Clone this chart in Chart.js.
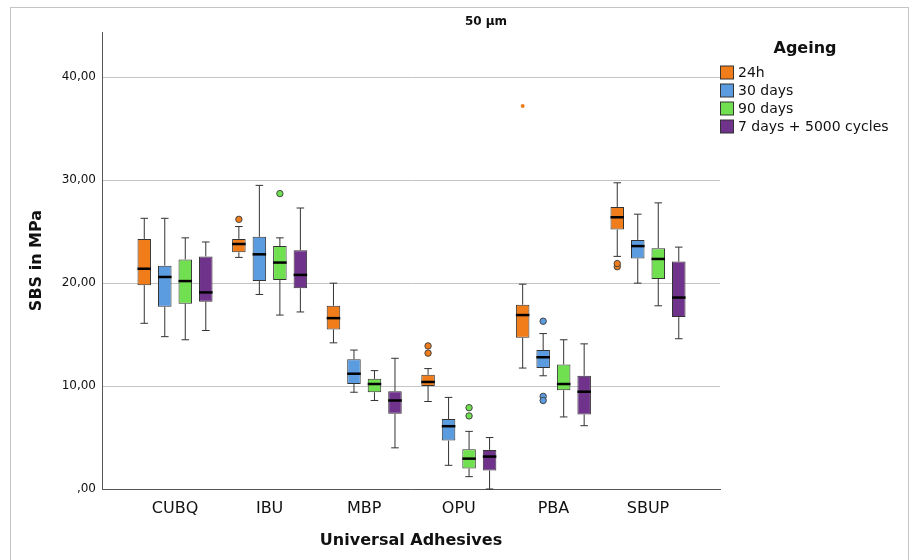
<!DOCTYPE html>
<html>
<head>
<meta charset="utf-8">
<script src="https://cdn.jsdelivr.net/npm/chart.js@4"></script>
<style>
  html, body { margin: 0; padding: 0; background: #fff; }
  #wrap { width: 911px; height: 560px; }
</style>
</head>
<body>
<div id="wrap"><canvas id="chartCanvas" width="911" height="560"></canvas></div>
<script>
const categories = ["CUBQ", "IBU", "MBP", "OPU", "PBA", "SBUP"];
const ageing = ["24h", "30 days", "90 days", "7 days + 5000 cycles"];
const colors = ["#f07d1a", "#5b9be0", "#70e050", "#70338c"];

// one row per ageing group, one value per adhesive
const lowWhisker = [
    [16.1, 22.5, 14.2, 8.5, 11.75, 22.6],
    [14.8, 18.9, 9.4, 2.3, 11.0, 20.0],
    [14.5, 16.9, 8.6, 1.2, 7.0, 17.8],
    [15.4, 17.2, 4.0, 0.0, 6.15, 14.6]
];
const q1 = [
    [19.8, 23.0, 15.5, 10.0, 14.7, 25.2],
    [17.7, 20.2, 10.2, 4.7, 11.75, 22.4],
    [18.0, 20.3, 9.4, 2.0, 9.6, 20.4],
    [18.2, 19.5, 7.3, 1.8, 7.25, 16.7]
];
const median = [
    [21.4, 23.8, 16.6, 10.4, 16.9, 26.4],
    [20.6, 22.8, 11.2, 6.1, 12.8, 23.6],
    [20.2, 22.0, 10.2, 2.95, 10.2, 22.35],
    [19.1, 20.8, 8.6, 3.15, 9.45, 18.6]
];
const q3 = [
    [24.3, 24.3, 17.8, 11.1, 17.9, 27.4],
    [21.7, 24.5, 12.6, 6.8, 13.5, 24.2],
    [22.3, 23.6, 10.7, 3.85, 12.1, 23.4],
    [22.6, 23.2, 9.5, 3.8, 11.0, 22.1]
];
const highWhisker = [
    [26.3, 25.5, 20.0, 11.7, 19.9, 29.75],
    [26.3, 29.5, 13.5, 8.9, 15.1, 26.7],
    [24.4, 24.4, 11.5, 5.6, 14.5, 27.8],
    [24.0, 27.3, 12.7, 5.0, 14.1, 23.5]
];
const outliers = [
    [[], [26.2], [], [13.2, 13.9], [], [21.6, 21.9]],
    [[], [], [], [], [16.3, 9.0, 8.6], []],
    [[], [28.7], [], [7.1, 7.9], [], []],
    [[], [], [], [], [], []]
];
const extremes = [
    [[], [], [], [], [37.2], []],
    [[], [], [], [], [], []],
    [[], [], [], [], [], []],
    [[], [], [], [], [], []]
];
const yTicks = [0, 10, 20, 30, 40];
const yTickLabels = [",00", "10,00", "20,00", "30,00", "40,00"];

const datasets = ageing.map((name, d) => ({
    label: name,
    data: categories.map((c, i) => ({ x: i + 1, y: [q1[d][i], q3[d][i]] })),
    backgroundColor: colors[d],
    borderColor: "#333333",
    borderWidth: 1,
    borderSkipped: false,
    categoryPercentage: 0.867,
    barPercentage: 0.66
}));

const boxPlugin = {
    id: "boxParts",
    afterDatasetsDraw(chart) {
        const ctx = chart.ctx;
        const y = chart.scales.y;
        ctx.save();
        chart.data.datasets.forEach((ds, d) => {
            const meta = chart.getDatasetMeta(d);
            meta.data.forEach((el, i) => {
                const x = el.x;
                const w = el.width;
                const cap = w * 0.28;
                ctx.strokeStyle = "#333333";
                ctx.lineWidth = 1;
                ctx.beginPath();
                ctx.moveTo(x, y.getPixelForValue(q3[d][i]));
                ctx.lineTo(x, y.getPixelForValue(highWhisker[d][i]));
                ctx.moveTo(x - cap, y.getPixelForValue(highWhisker[d][i]));
                ctx.lineTo(x + cap, y.getPixelForValue(highWhisker[d][i]));
                ctx.moveTo(x, y.getPixelForValue(q1[d][i]));
                ctx.lineTo(x, y.getPixelForValue(lowWhisker[d][i]));
                ctx.moveTo(x - cap, y.getPixelForValue(lowWhisker[d][i]));
                ctx.lineTo(x + cap, y.getPixelForValue(lowWhisker[d][i]));
                ctx.stroke();

                ctx.strokeStyle = "#000000";
                ctx.lineWidth = 2.5;
                ctx.beginPath();
                ctx.moveTo(x - w / 2, y.getPixelForValue(median[d][i]));
                ctx.lineTo(x + w / 2, y.getPixelForValue(median[d][i]));
                ctx.stroke();

                outliers[d][i].forEach(v => {
                    ctx.beginPath();
                    ctx.arc(x, y.getPixelForValue(v), 3.2, 0, Math.PI * 2);
                    ctx.fillStyle = colors[d];
                    ctx.fill();
                    ctx.strokeStyle = "#444444";
                    ctx.lineWidth = 1;
                    ctx.stroke();
                });
                extremes[d][i].forEach(v => {
                    ctx.beginPath();
                    ctx.arc(x, y.getPixelForValue(v), 2, 0, Math.PI * 2);
                    ctx.fillStyle = colors[d];
                    ctx.fill();
                });
            });
        });
        ctx.restore();
    }
};

const decorPlugin = {
    id: "decor",
    beforeDraw(chart) {
        const ctx = chart.ctx;
        ctx.save();
        ctx.fillStyle = "#ffffff";
        ctx.fillRect(0, 0, chart.width, chart.height);
        ctx.strokeStyle = "#c4c4c4";
        ctx.lineWidth = 1;
        ctx.strokeRect(10.5, 7.5, 898, 570);
        ctx.restore();
    },
    afterDraw(chart) {
        const ctx = chart.ctx;
        ctx.save();
        ctx.fillStyle = "#111111";
        ctx.textAlign = "center";
        ctx.textBaseline = "middle";
        ctx.font = "bold 12px 'DejaVu Sans'";
        ctx.fillText("50 µm", 486, 22);
        ctx.font = "bold 16px 'DejaVu Sans'";
        ctx.fillText("Ageing", 805, 49);
        ctx.textAlign = "left";
        ctx.font = "14px 'DejaVu Sans'";
        ageing.forEach((name, d) => {
            const yy = 72.5 + d * 18;
            ctx.fillStyle = colors[d];
            ctx.fillRect(720.5, yy - 6.5, 13, 13);
            ctx.strokeStyle = "#333333";
            ctx.lineWidth = 1;
            ctx.strokeRect(720.5, yy - 6.5, 13, 13);
            ctx.fillStyle = "#111111";
            ctx.fillText(name, 738, yy + 0.5);
        });
        ctx.restore();
    }
};

const ctx = document.getElementById("chartCanvas").getContext("2d");
new Chart(ctx, {
    type: "bar",
    data: { datasets },
    options: {
        responsive: false,
        animation: false,
        layout: { padding: { left: 10, top: 32, right: 191, bottom: 0 } },
        plugins: {
            legend: { display: false },
            tooltip: { enabled: false },
            title: { display: false }
        },
        scales: {
            x: {
                type: "linear",
                offset: false,
                min: 0.228,
                max: 6.761,
                afterBuildTicks: s => { s.ticks = categories.map((c, i) => ({ value: i + 1 })); },
                afterFit: s => { s.height = 71; },
                ticks: {
                    color: "#111111",
                    padding: 10,
                    font: { family: "DejaVu Sans", size: 16 },
                    callback: v => categories[v - 1]
                },
                grid: { display: false, drawTicks: false, offset: false },
                border: { color: "#555555", width: 1 },
                title: {
                    display: true,
                    text: "Universal Adhesives",
                    color: "#111111",
                    font: { family: "DejaVu Sans", size: 16, weight: "bold" },
                    padding: { top: 0, bottom: 10 }
                }
            },
            y: {
                min: 0,
                max: 44.4,
                afterBuildTicks: s => { s.ticks = yTicks.map(v => ({ value: v })); },
                afterFit: s => { s.width = 92; },
                ticks: {
                    color: "#111111",
                    padding: 6,
                    font: { family: "DejaVu Sans", size: 12 },
                    callback: (v, idx) => yTickLabels[idx]
                },
                grid: { color: "#c4c4c4", drawTicks: false },
                border: { color: "#555555", width: 1 },
                title: {
                    display: true,
                    text: "SBS in MPa",
                    color: "#111111",
                    font: { family: "DejaVu Sans", size: 16, weight: "bold" },
                    padding: { top: 17, bottom: 0 }
                }
            }
        }
    },
    plugins: [decorPlugin, boxPlugin]
});
</script>
</body>
</html>
